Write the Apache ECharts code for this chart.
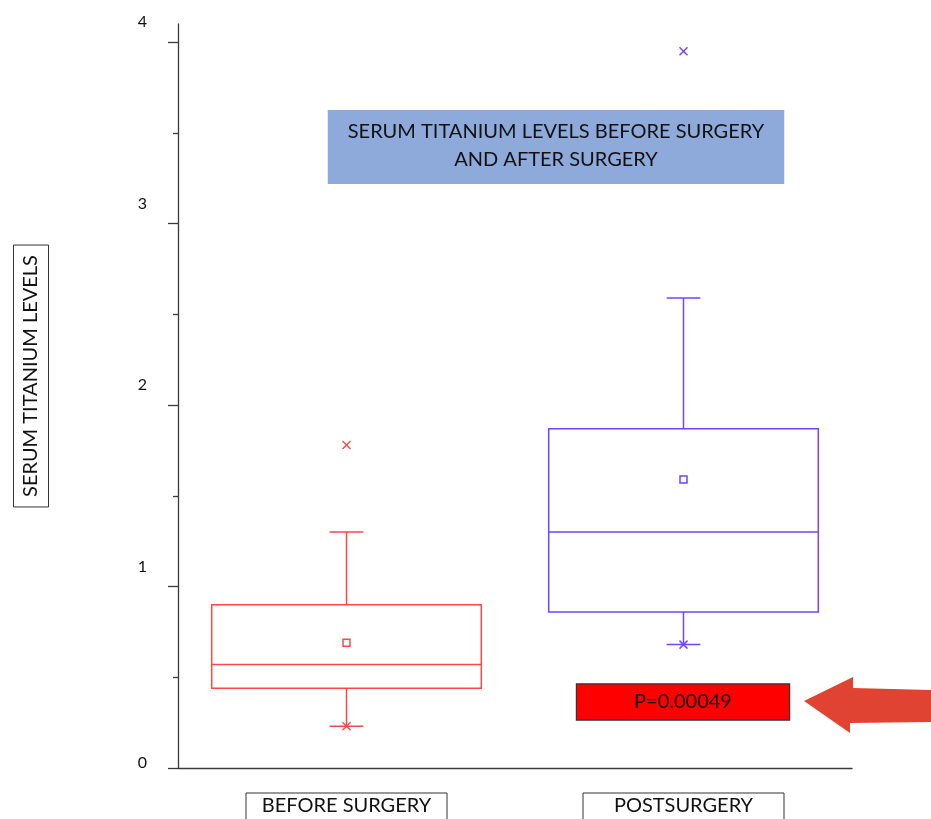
<!DOCTYPE html>
<html>
<head>
<meta charset="utf-8">
<script src="https://cdn.jsdelivr.net/npm/echarts@6/dist/echarts.min.js"></script>
<style>
  html, body { margin: 0; padding: 0; background: #fff; }
  #chart { width: 931px; height: 819px; }
</style>
</head>
<body>
<div id="chart"></div>
<script>
// box plot values
const categories = ['BEFORE SURGERY', 'POSTSURGERY'];
const minValues = [0.23, 0.68];
const q1Values = [0.44, 0.86];
const medianValues = [0.57, 1.30];
const q3Values = [0.90, 1.87];
const upperWhiskers = [1.30, 2.59];
const maxValues = [1.78, 3.95];
const meanValues = [0.69, 1.59];
const majorTicks = [0, 1, 2, 3, 4];
const minorTicks = [0.5, 1.5, 2.5, 3.5];
const pValueText = 'P=0.00049';

const boxColors = ['#ff4747', '#6f45ff'];
const fontFamily = 'Lato, "Open Sans", sans-serif';

const chart = echarts.init(document.getElementById('chart'));

const boxData = categories.map((c, i) => [
  i, minValues[i], q1Values[i], medianValues[i], q3Values[i],
  upperWhiskers[i], maxValues[i], meanValues[i]
]);

function renderBox(params, api) {
  const i = api.value(0);
  const color = boxColors[i];
  const band = api.size([1, 0])[0];
  const bw = band * 0.8;
  const cw = band * 0.1;
  const cx = api.coord([i, 0])[0];
  const y = k => api.coord([i, api.value(k)])[1];
  const yMin = y(1), yQ1 = y(2), yMed = y(3), yQ3 = y(4), yUp = y(5), yMax = y(6), yMean = y(7);
  const st = { stroke: color, lineWidth: 1.5, fill: 'none' };
  const line = (x1, y1, x2, y2) => ({ type: 'line', shape: { x1, y1, x2, y2 }, style: st });
  const cross = (yy) => [
    line(cx - 4, yy - 4, cx + 4, yy + 4),
    line(cx - 4, yy + 4, cx + 4, yy - 4)
  ];
  return {
    type: 'group',
    children: [
      { type: 'rect', shape: { x: cx - bw / 2, y: yQ3, width: bw, height: yQ1 - yQ3 }, style: st },
      line(cx - bw / 2, yMed, cx + bw / 2, yMed),
      line(cx, yQ3, cx, yUp),
      line(cx - cw / 2, yUp, cx + cw / 2, yUp),
      line(cx, yQ1, cx, yMin),
      line(cx - cw / 2, yMin, cx + cw / 2, yMin),
      { type: 'rect', shape: { x: cx - 3.5, y: yMean - 3.5, width: 7, height: 7 }, style: st }
    ].concat(cross(yMin), cross(yMax))
  };
}

const option = {
  animation: false,
  title: {
    text: 'SERUM TITANIUM LEVELS BEFORE SURGERY\nAND AFTER SURGERY',
    left: 536,
    top: 110,
    textAlign: 'center',
    backgroundColor: '#8eaadb',
    padding: [8, 20, 10, 20],
    textStyle: {
      fontFamily: fontFamily,
      fontSize: 20,
      fontWeight: 'normal',
      color: '#111',
      lineHeight: 28
    }
  },
  grid: { left: 178, right: 79, top: 24, bottom: 51, containLabel: false, outerBoundsMode: 'none' },
  xAxis: {
    type: 'category',
    data: categories,
    axisLine: { lineStyle: { color: '#3a3a3a', width: 1.3 } },
    axisTick: { alignWithLabel: true, length: 15, lineStyle: { color: '#3a3a3a', width: 1.3 } },
    axisLabel: {
      margin: 25,
      color: '#111',
      fontFamily: fontFamily,
      fontSize: 20,
      width: 165,
      align: 'center',
      borderColor: '#333',
      borderWidth: 1,
      padding: [3, 18, 10, 18]
    },
    splitLine: { show: false }
  },
  yAxis: [
    {
      type: 'value',
      min: 0,
      max: 4.1,
      axisLine: { show: true, lineStyle: { color: '#3a3a3a', width: 1.3 } },
      axisTick: { show: true, length: 10, customValues: majorTicks, lineStyle: { color: '#3a3a3a', width: 1.3 } },
      axisLabel: {
        customValues: majorTicks,
        margin: 31,
        formatter: v => v === 0 ? '{z|0}' : '{n|' + v + '}',
        rich: {
          n: { fontFamily: fontFamily, fontSize: 16, color: '#111', padding: [0, 0, 40, 0] },
          z: { fontFamily: fontFamily, fontSize: 16, color: '#111', padding: [0, 0, 10, 0] }
        }
      },
      splitLine: { show: false }
    },
    {
      type: 'value',
      min: 0,
      max: 4.1,
      position: 'left',
      axisLine: { show: false },
      axisTick: { show: true, length: 5, customValues: minorTicks, lineStyle: { color: '#3a3a3a', width: 1.3 } },
      axisLabel: { show: false },
      splitLine: { show: false }
    }
  ],
  graphic: [
    {
      type: 'text',
      x: 31,
      y: 376,
      rotation: Math.PI / 2,
      style: {
        text: 'SERUM TITANIUM LEVELS',
        fill: '#111',
        font: '20px ' + fontFamily,
        align: 'center',
        verticalAlign: 'middle',
        borderColor: '#333',
        borderWidth: 1,
        padding: [8, 10, 7, 10]
      }
    },
    {
      type: 'text',
      x: 683,
      y: 702,
      style: {
        text: pValueText,
        fill: '#111',
        font: '20px ' + fontFamily,
        align: 'center',
        verticalAlign: 'middle',
        width: 212,
        backgroundColor: '#ff0000',
        borderColor: '#333',
        borderWidth: 1.2,
        padding: [8, 0, 7, 0]
      }
    },
    {
      type: 'polygon',
      shape: {
        points: [[804, 701], [853, 677], [853, 688], [931, 690], [931, 722], [850, 723], [850, 733]]
      },
      style: { fill: '#e04331' }
    }
  ],
  series: [{
    type: 'custom',
    renderItem: renderBox,
    data: boxData,
    encode: { x: 0, y: [1, 2, 3, 4, 5, 6, 7] },
    yAxisIndex: 0
  }]
};

chart.setOption(option);
window.addEventListener('resize', () => chart.resize());
</script>
</body>
</html>
